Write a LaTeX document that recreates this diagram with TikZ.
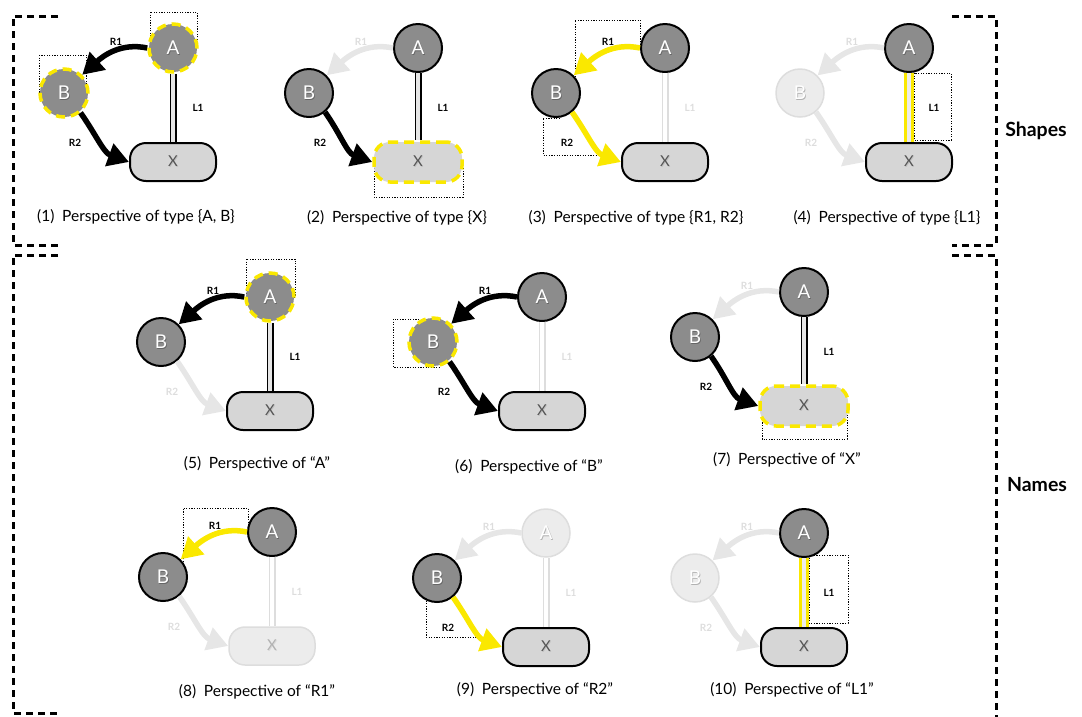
\documentclass[tikz,border=0pt]{standalone}
\usepackage{fontspec}
\setmainfont{Lato}
\usetikzlibrary{arrows.meta}
\definecolor{ngray}{RGB}{140,140,140}
\definecolor{xgray}{RGB}{214,214,214}
\definecolor{fadeF}{RGB}{236,236,236}
\definecolor{fadeD}{RGB}{221,221,221}
\definecolor{fadeA}{RGB}{230,230,230}
\definecolor{hy}{RGB}{250,232,0}
\definecolor{xtext}{RGB}{85,85,85}
\colorlet{shc}{black}
\newcommand\shd[1]{\makebox[0pt][l]{\kern0.8pt\raisebox{-0.8pt}{\textcolor{shc}{#1}}}#1}
\tikzset{
  circ/.style={circle, minimum size=48pt, inner sep=0pt, font=\fontsize{19}{19}\selectfont},
  nN/.style={circ, fill=ngray, draw=black, line width=2pt, text=white, execute at begin node={\colorlet{shc}{black!60}}},
  nH/.style={circ, fill=ngray, draw=hy, line width=3.5pt, dash pattern=on 9pt off 6pt, text=white, execute at begin node={\colorlet{shc}{black!60}}},
  nF/.style={circ, fill=fadeF, draw=fadeD, line width=1.5pt, text=white, execute at begin node={\colorlet{shc}{black!30}}},
  rbox/.style={rectangle, rounded corners=16pt, minimum width=86pt, minimum height=38pt, inner sep=0pt, font=\fontsize{15}{15}\selectfont},
  xN/.style={rbox, fill=xgray, draw=black, line width=2pt, text=xtext, execute at begin node={\colorlet{shc}{black!25}}},
  xH/.style={rbox, minimum width=88pt, minimum height=40pt, fill=xgray, draw=hy, line width=3.5pt, dash pattern=on 10pt off 6pt, text=xtext, execute at begin node={\colorlet{shc}{black!25}}},
  xF/.style={rbox, fill=fadeF, draw=fadeD, line width=1.5pt, text=black!30, execute at begin node={\colorlet{shc}{black!15}}},
  edgebase/.style={line width=5.5pt, -{Triangle[length=21pt,width=23pt]}},
  eN/.style={edgebase, draw=black},
  eH/.style={edgebase, draw=hy},
  eF/.style={edgebase, draw=fadeA},
  dN/.style={draw=black, line width=1.5pt, double=xgray!60, double distance=4pt},
  dH/.style={draw=hy, line width=3pt, double=fadeF, double distance=4pt},
  dF/.style={draw=fadeD, line width=1.5pt, double=white, double distance=4pt},
  lab/.style={font=\fontsize{10}{10}\selectfont\bfseries, inner sep=0pt},
  leN/.style={lab, text=black},
  leH/.style={lab, text=black},
  leF/.style={lab, text=fadeD},
  ldN/.style={lab, text=black},
  ldH/.style={lab, text=black},
  ldF/.style={lab, text=fadeD},
  dotbox/.style={draw=black, line width=0.7pt, dash pattern=on 1.2pt off 1.4pt},
  brk/.style={draw=black, line width=3pt, dash pattern=on 7pt off 5pt},
  capt/.style={font=\fontsize{15.5}{18}\selectfont, inner sep=0pt},
  grp/.style={font=\fontsize{19.5}{20}\selectfont\bfseries, inner sep=0pt}
}
\newcommand\panel[7]{%
  \node[#2] (#1A) at (0,0) {\shd{A}};
  \node[#3] (#1B) at (-109,45) {\shd{B}};
  \node[#4] (#1X) at (0,114) {\shd{X}};
  \draw[#5] (#1A.west) to[out=168,in=42] (#1B.45);
  \draw[#6] (#1B.-50) to[out=-55,in=160] (#1X.west);
  \draw[#7] (#1A.south) -- (#1X.north);
  \node[l#5] (#1r1) at (-57,-6) {R1};
  \node[l#6] (#1r2) at (-98,95) {R2};
  \node[l#7] (#1l1) at (25,60) {L1};
}
\begin{document}
\begin{tikzpicture}[x=1pt,y=-1pt]
\useasboundingbox (0,0) rectangle (1082,716);
% brackets
\draw[brk] (58,16) -- (13,16) -- (13,245) -- (58,245);
\draw[brk] (952,16) -- (996,16) -- (996,245) -- (952,245);
\draw[brk] (58,255) -- (13,255) -- (13,713) -- (58,713);
\draw[brk] (952,255) -- (996,255) -- (996,720);
\node[grp] (shapes) at (1036,131) {Shapes};
\node[grp] (names) at (1037,485) {Names};
% panel 1
\begin{scope}[shift={(173,48)}]
  \draw[dotbox] (-23,-36) rectangle (24,0);
  \draw[dotbox] (-134,7) rectangle (-87,45);
  \panel{p1}{nH}{nH}{xN}{eN}{eN}{dN}
\end{scope}
% panel 2
\begin{scope}[shift={(418,48)}]
  \draw[dotbox] (-44,120) rectangle (45,149);
  \panel{p2}{nN}{nN}{xH}{eF}{eN}{dN}
\end{scope}
% panel 3
\begin{scope}[shift={(665,48)}]
  \draw[dotbox] (-90,29) -- (-90,-28) -- (-25,-28) -- (-25,-3);
  \draw[dotbox] (-105,70) -- (-122,70) -- (-122,107) -- (-68,107);
  \panel{p3}{nN}{nN}{xN}{eH}{eH}{dF}
\end{scope}
% panel 4
\begin{scope}[shift={(909,48)}]
  \draw[dotbox] (5,25) rectangle (42,92);
  \panel{p4}{nN}{nF}{xN}{eF}{eF}{dH}
\end{scope}
% panel 5
\begin{scope}[shift={(270,297)}]
  \draw[dotbox] (-24,-38) rectangle (25,0);
  \panel{p5}{nH}{nN}{xN}{eN}{eF}{dN}
\end{scope}
% panel 6
\begin{scope}[shift={(542,297)}]
  \draw[dotbox] (-149,22) rectangle (-102,70);
  \panel{p6}{nN}{nH}{xN}{eN}{eN}{dF}
\end{scope}
% panel 7
\begin{scope}[shift={(804,292)}]
  \draw[dotbox] (-42,120) rectangle (43,147);
  \panel{p7}{nN}{nN}{xH}{eF}{eN}{dN}
\end{scope}
% panel 8
\begin{scope}[shift={(272,532)}]
  \draw[dotbox] (-89,30) -- (-89,-24) -- (-24,-24) -- (-24,-4);
  \panel{p8}{nN}{nN}{xF}{eH}{eF}{dF}
\end{scope}
% panel 9
\begin{scope}[shift={(546,533)}]
  \draw[dotbox] (-105,67) -- (-120,67) -- (-120,104) -- (-64,104);
  \panel{p9}{nF}{nN}{xN}{eF}{eH}{dF}
\end{scope}
% panel 10
\begin{scope}[shift={(804,533)}]
  \draw[dotbox] (5,22) rectangle (44,90);
  \panel{p10}{nN}{nF}{xN}{eF}{eF}{dH}
\end{scope}
% captions
\node[capt] (c1) at (136,217) {(1)\enspace Perspective of type \{A, B\}};
\node[capt] (c2) at (397,218) {(2)\enspace Perspective of type \{X\}};
\node[capt] (c3) at (636,218) {(3)\enspace Perspective of type \{R1, R2\}};
\node[capt] (c4) at (887,218) {(4)\enspace Perspective of type \{L1\}};
\node[capt] (c5) at (257,464) {(5)\enspace Perspective of “A”};
\node[capt] (c6) at (529,467) {(6)\enspace Perspective of “B”};
\node[capt] (c7) at (787,460) {(7)\enspace Perspective of “X”};
\node[capt] (c8) at (257,692) {(8)\enspace Perspective of “R1”};
\node[capt] (c9) at (535,690) {(9)\enspace Perspective of “R2”};
\node[capt] (c10) at (792,690) {(10)\enspace Perspective of “L1”};
\end{tikzpicture}
\end{document}
